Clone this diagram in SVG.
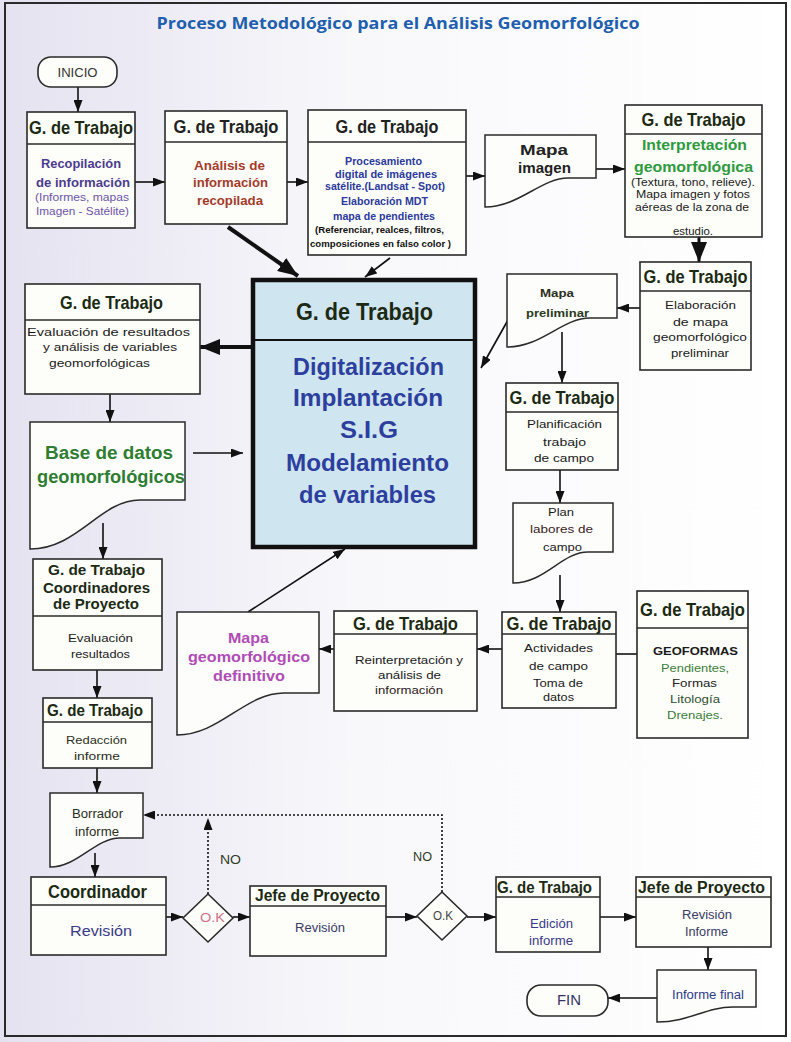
<svg xmlns="http://www.w3.org/2000/svg" width="791" height="1042" viewBox="0 0 791 1042" fill="#1a1a1a">
<defs>
<linearGradient id="bg" x1="0" y1="0" x2="1" y2="0">
<stop offset="0" stop-color="#e4e2f0"/>
<stop offset="0.45" stop-color="#f8f8fb"/>
<stop offset="1" stop-color="#ffffff"/>
</linearGradient>
<marker id="ah" markerUnits="userSpaceOnUse" markerWidth="12" markerHeight="9" refX="12" refY="4.5" orient="auto">
<path d="M0,0 L12,4.5 L0,9 z" fill="#111"/>
</marker>
<marker id="big" markerUnits="userSpaceOnUse" markerWidth="20" markerHeight="16" refX="20" refY="8" orient="auto">
<path d="M0,0 L20,8 L0,16 z" fill="#111"/>
</marker>
<style>
.box{fill:#fdfdf9;stroke:#2a2a2a;stroke-width:1.6}
.doc{fill:#fdfdfb;stroke:#2a2a2a;stroke-width:1.5}
.dv{stroke:#2a2a2a;stroke-width:1.4}
.hd{font-family:"Liberation Sans Narrow","Liberation Sans",Arial,sans-serif;font-weight:bold;text-anchor:middle}
.t{font-family:"Liberation Sans",Arial,sans-serif;text-anchor:middle}
.b{font-weight:bold}
.ln{stroke:#111;stroke-width:1.6;fill:none}
.arr{marker-end:url(#ah)}
.thick{stroke-width:4;marker-end:url(#big)}
.dot{stroke-dasharray:2 2;stroke-width:1.6}
</style>
</defs>
<rect x="0" y="0" width="791" height="1042" fill="url(#bg)"/>
<rect x="5" y="3" width="781" height="1033" fill="none" stroke="#2a2a2a" stroke-width="2"/>
<text x="398" y="29" font-family="'Open Sans','Liberation Sans',sans-serif" font-weight="bold" font-size="16" fill="#1f5fae" text-anchor="middle" textLength="483" lengthAdjust="spacingAndGlyphs">Proceso Metodológico para el Análisis Geomorfológico</text>

<g id="connectors">
<line class="ln arr" x1="78" y1="87" x2="78" y2="112"/>
<line class="ln arr" x1="135" y1="182" x2="165" y2="182"/>
<line class="ln arr" x1="287" y1="182" x2="308" y2="182"/>
<line class="ln arr" x1="466" y1="176" x2="485" y2="176"/>
<line class="ln arr" x1="596" y1="169" x2="625" y2="169"/>
<line class="ln" style="stroke-width:3;marker-end:url(#big)" x1="699" y1="237" x2="699" y2="262"/>
<line class="ln arr" x1="640" y1="308" x2="617" y2="308"/>
<line class="ln arr" x1="508" y1="320" x2="481" y2="368"/>
<line class="ln arr" x1="562" y1="332" x2="562" y2="383"/>
<line class="ln arr" x1="560" y1="470" x2="560" y2="503"/>
<line class="ln arr" x1="560" y1="575" x2="560" y2="612"/>
<line class="ln" x1="616" y1="654" x2="637" y2="654"/>
<line class="ln arr" x1="502" y1="649" x2="477" y2="649"/>
<line class="ln arr" x1="334" y1="649" x2="319" y2="649"/>
<line class="ln arr" x1="248" y1="612" x2="345" y2="549"/>
<line class="ln thick" x1="228" y1="227" x2="298" y2="276"/>
<line class="ln arr" x1="390" y1="258" x2="365" y2="277"/>
<line class="ln thick" x1="253" y1="347" x2="200" y2="347"/>
<line class="ln arr" x1="110" y1="394" x2="110" y2="422"/>
<line class="ln arr" x1="193" y1="453" x2="243" y2="453"/>
<line class="ln arr" x1="103" y1="523" x2="103" y2="559"/>
<line class="ln arr" x1="97" y1="670" x2="97" y2="698"/>
<line class="ln arr" x1="97" y1="768" x2="97" y2="793"/>
<line class="ln arr" x1="95" y1="853" x2="95" y2="877"/>
<line class="ln arr" x1="166" y1="917" x2="183" y2="917"/>
<line class="ln arr" x1="233" y1="917" x2="250" y2="917"/>
<line class="ln dot arr" x1="208" y1="894" x2="208" y2="818"/>
<path class="ln dot arr" d="M442,892 V815 H143"/>
<line class="ln arr" x1="386" y1="917" x2="417" y2="917"/>
<line class="ln arr" x1="467" y1="917" x2="496" y2="917"/>
<line class="ln arr" x1="600" y1="917" x2="636" y2="917"/>
<line class="ln arr" x1="708" y1="947" x2="708" y2="970"/>
<line class="ln arr" x1="657" y1="998" x2="608" y2="998"/>
<text class="t" x="230.5" y="864" font-size="12" fill="#2e3a1e" textLength="21" lengthAdjust="spacingAndGlyphs">NO</text>
<text class="t" x="422.5" y="861" font-size="12" fill="#2e3a1e" textLength="19" lengthAdjust="spacingAndGlyphs">NO</text>
</g>

<g id="inicio">
<rect x="38" y="57" width="79" height="30" rx="13" class="box"/>
<text class="t" x="77.5" y="76.5" font-size="12" fill="#333" textLength="40" lengthAdjust="spacingAndGlyphs">INICIO</text>
</g>

<g id="recopilacion">
<rect x="27" y="112" width="108" height="116" class="box"/>
<line class="dv" x1="27" y1="144" x2="135" y2="144"/>
<text class="hd" x="81" y="134" font-size="19" fill="#1c2a14" textLength="104" lengthAdjust="spacingAndGlyphs">G. de Trabajo</text>
<text class="t b" x="81" y="167.5" font-size="13" fill="#4b3b8f" textLength="80" lengthAdjust="spacingAndGlyphs">Recopilación</text>
<text class="t b" x="83" y="186.5" font-size="13" fill="#4b3b8f" textLength="94" lengthAdjust="spacingAndGlyphs">de información</text>
<text class="t" x="82" y="201" font-size="11.5" fill="#6d55a8" textLength="94" lengthAdjust="spacingAndGlyphs">(Informes, mapas</text>
<text class="t" x="82.5" y="215" font-size="11.5" fill="#6d55a8" textLength="93" lengthAdjust="spacingAndGlyphs">Imagen - Satélite)</text>
</g>

<g id="analisis">
<rect x="165" y="111" width="122" height="113" class="box"/>
<line class="dv" x1="165" y1="142" x2="287" y2="142"/>
<text class="hd" x="226" y="133" font-size="19" fill="#222" textLength="105" lengthAdjust="spacingAndGlyphs">G. de Trabajo</text>
<text class="t b" x="229.5" y="169.5" font-size="13" fill="#a33a2a" textLength="71" lengthAdjust="spacingAndGlyphs">Análisis de</text>
<text class="t b" x="230.5" y="186.5" font-size="13" fill="#a33a2a" textLength="75" lengthAdjust="spacingAndGlyphs">información</text>
<text class="t b" x="230" y="204.5" font-size="13" fill="#a33a2a" textLength="66" lengthAdjust="spacingAndGlyphs">recopilada</text>
</g>

<g id="procesamiento">
<rect x="308" y="110" width="158" height="145" class="box"/>
<line class="dv" x1="308" y1="142" x2="466" y2="142"/>
<text class="hd" x="387" y="133" font-size="19" fill="#222" textLength="103" lengthAdjust="spacingAndGlyphs">G. de Trabajo</text>
<text class="t b" x="383.5" y="164.7" font-size="10.5" fill="#2b3a9c" textLength="77" lengthAdjust="spacingAndGlyphs">Procesamiento</text>
<text class="t b" x="386" y="177.7" font-size="10.5" fill="#2b3a9c" textLength="102" lengthAdjust="spacingAndGlyphs">digital de imágenes</text>
<text class="t b" x="385" y="189.7" font-size="10.5" fill="#2b3a9c" textLength="120" lengthAdjust="spacingAndGlyphs">satélite.(Landsat - Spot)</text>
<text class="t b" x="384.5" y="204.7" font-size="11" fill="#2b3a9c" textLength="87" lengthAdjust="spacingAndGlyphs">Elaboración MDT</text>
<text class="t b" x="384" y="219.7" font-size="11" fill="#2b3a9c" textLength="102" lengthAdjust="spacingAndGlyphs">mapa de pendientes</text>
<text class="t b" x="379.5" y="233" font-size="8.5" fill="#111" textLength="129" lengthAdjust="spacingAndGlyphs">(Referenciar, realces, filtros,</text>
<text class="t b" x="380.5" y="247" font-size="8.5" fill="#111" textLength="141" lengthAdjust="spacingAndGlyphs">composiciones en falso color )</text>
</g>

<g id="mapa-imagen">
<path class="doc" d="M485,135 H596 V178 L568,178 C541,178 519,207 485,207 Z"/>
<text class="t b" x="544" y="155" font-size="14" fill="#222" textLength="48" lengthAdjust="spacingAndGlyphs">Mapa</text>
<text class="t b" x="544.5" y="173" font-size="14" fill="#222" textLength="53" lengthAdjust="spacingAndGlyphs">imagen</text>
</g>

<g id="interpretacion">
<rect x="625" y="105" width="137" height="132" class="box"/>
<line class="dv" x1="625" y1="134" x2="762" y2="134"/>
<text class="hd" x="693.5" y="126" font-size="19" fill="#1c2a14" textLength="104" lengthAdjust="spacingAndGlyphs">G. de Trabajo</text>
<text class="t b" x="694.5" y="150" font-size="15" fill="#2e9a40" textLength="105" lengthAdjust="spacingAndGlyphs">Interpretación</text>
<text class="t b" x="693.5" y="172" font-size="15" fill="#2e9a40" textLength="119" lengthAdjust="spacingAndGlyphs">geomorfológica</text>
<text class="t" x="693" y="186" font-size="11" fill="#1a1a1a" textLength="124" lengthAdjust="spacingAndGlyphs">(Textura, tono, relieve).</text>
<text class="t" x="693" y="198" font-size="11" fill="#1a1a1a" textLength="114" lengthAdjust="spacingAndGlyphs">Mapa imagen y fotos</text>
<text class="t" x="692" y="211" font-size="11" fill="#1a1a1a" textLength="114" lengthAdjust="spacingAndGlyphs">aéreas de la zona de</text>
<text class="t" x="693" y="235" font-size="11" fill="#1a1a1a" textLength="40" lengthAdjust="spacingAndGlyphs">estudio.</text>
</g>

<g id="elaboracion">
<rect x="640" y="262" width="111" height="108" class="box"/>
<line class="dv" x1="640" y1="291" x2="751" y2="291"/>
<text class="hd" x="695.5" y="282.5" font-size="19" fill="#1c2a14" textLength="104" lengthAdjust="spacingAndGlyphs">G. de Trabajo</text>
<text class="t" x="700.5" y="309" font-size="11.5" fill="#1a1a1a" textLength="71" lengthAdjust="spacingAndGlyphs">Elaboración</text>
<text class="t" x="700.5" y="326" font-size="11.5" fill="#1a1a1a" textLength="55" lengthAdjust="spacingAndGlyphs">de mapa</text>
<text class="t" x="700" y="341" font-size="11.5" fill="#1a1a1a" textLength="94" lengthAdjust="spacingAndGlyphs">geomorfológico</text>
<text class="t" x="700" y="357" font-size="11.5" fill="#1a1a1a" textLength="58" lengthAdjust="spacingAndGlyphs">preliminar</text>
</g>

<g id="mapa-preliminar">
<path class="doc" d="M507,274 H617 V318 L590,318 C562,318 542,347 507,347 Z"/>
<text class="t b" x="557" y="297" font-size="11.5" fill="#2a2f20" textLength="34" lengthAdjust="spacingAndGlyphs">Mapa</text>
<text class="t b" x="557.5" y="317" font-size="11.5" fill="#2a3a1c" textLength="63" lengthAdjust="spacingAndGlyphs">preliminar</text>
</g>

<g id="planificacion">
<rect x="506" y="383" width="112" height="87" class="box"/>
<line class="dv" x1="506" y1="412" x2="618" y2="412"/>
<text class="hd" x="562" y="403.5" font-size="19" fill="#1c2a14" textLength="105" lengthAdjust="spacingAndGlyphs">G. de Trabajo</text>
<text class="t" x="564.5" y="428" font-size="11.5" fill="#1a1a1a" textLength="75" lengthAdjust="spacingAndGlyphs">Planificación</text>
<text class="t" x="564.5" y="446" font-size="11.5" fill="#1a1a1a" textLength="43" lengthAdjust="spacingAndGlyphs">trabajo</text>
<text class="t" x="564" y="462" font-size="11.5" fill="#1a1a1a" textLength="60" lengthAdjust="spacingAndGlyphs">de campo</text>
</g>

<g id="plan-labores">
<path class="doc" d="M513,503 H613 V552 L588,552 C562,552 545,583 513,583 Z"/>
<text class="t" x="561" y="516" font-size="11.5" fill="#1a1a1a" textLength="26" lengthAdjust="spacingAndGlyphs">Plan</text>
<text class="t" x="561.5" y="533" font-size="11.5" fill="#3a2222" textLength="63" lengthAdjust="spacingAndGlyphs">labores de</text>
<text class="t" x="562.5" y="551" font-size="11.5" fill="#1a1a1a" textLength="39" lengthAdjust="spacingAndGlyphs">campo</text>
</g>

<g id="actividades">
<rect x="502" y="612" width="114" height="96" class="box"/>
<line class="dv" x1="502" y1="634" x2="616" y2="634"/>
<text class="hd" x="559" y="629.5" font-size="19" fill="#1c2a14" textLength="105" lengthAdjust="spacingAndGlyphs">G. de Trabajo</text>
<text class="t" x="558.5" y="652" font-size="11.5" fill="#1a1a1a" textLength="69" lengthAdjust="spacingAndGlyphs">Actividades</text>
<text class="t" x="558.5" y="670" font-size="11.5" fill="#1a1a1a" textLength="59" lengthAdjust="spacingAndGlyphs">de campo</text>
<text class="t" x="558" y="687" font-size="11.5" fill="#1a1a1a" textLength="50" lengthAdjust="spacingAndGlyphs">Toma de</text>
<text class="t" x="558.5" y="701" font-size="11.5" fill="#1a1a1a" textLength="31" lengthAdjust="spacingAndGlyphs">datos</text>
</g>

<g id="geoformas">
<rect x="637" y="591" width="111" height="147" class="box"/>
<line class="dv" x1="637" y1="628" x2="748" y2="628"/>
<text class="hd" x="692.5" y="615.5" font-size="19" fill="#1c2a14" textLength="105" lengthAdjust="spacingAndGlyphs">G. de Trabajo</text>
<text class="t b" x="695.5" y="655" font-size="11.5" fill="#1a1a1a" textLength="85" lengthAdjust="spacingAndGlyphs">GEOFORMAS</text>
<text class="t" x="695" y="672" font-size="11.5" fill="#3b7d3b" textLength="68" lengthAdjust="spacingAndGlyphs">Pendientes,</text>
<text class="t" x="694.5" y="687" font-size="11.5" fill="#222" textLength="45" lengthAdjust="spacingAndGlyphs">Formas</text>
<text class="t" x="695" y="703" font-size="11.5" fill="#2f4f2f" textLength="50" lengthAdjust="spacingAndGlyphs">Litología</text>
<text class="t" x="695" y="719" font-size="11.5" fill="#3b7d3b" textLength="56" lengthAdjust="spacingAndGlyphs">Drenajes.</text>
</g>

<g id="reinterpretacion">
<rect x="334" y="611" width="143" height="100" class="box"/>
<line class="dv" x1="334" y1="634" x2="477" y2="634"/>
<text class="hd" x="405.5" y="629.5" font-size="19" fill="#1c2a14" textLength="105" lengthAdjust="spacingAndGlyphs">G. de Trabajo</text>
<text class="t" x="409" y="664" font-size="11.5" fill="#1a1a1a" textLength="108" lengthAdjust="spacingAndGlyphs">Reinterpretación y</text>
<text class="t" x="409.5" y="679" font-size="11.5" fill="#1a1a1a" textLength="63" lengthAdjust="spacingAndGlyphs">análisis de</text>
<text class="t" x="409" y="694" font-size="11.5" fill="#2a1a1a" textLength="68" lengthAdjust="spacingAndGlyphs">información</text>
</g>

<g id="mapa-definitivo">
<path class="doc" d="M177,612 H319 V693 L284,693 C245,693 220,735 177,735 Z"/>
<text class="t b" x="248.5" y="643" font-size="15" fill="#b04cb5" textLength="41" lengthAdjust="spacingAndGlyphs">Mapa</text>
<text class="t b" x="249" y="662" font-size="15" fill="#b04cb5" textLength="122" lengthAdjust="spacingAndGlyphs">geomorfológico</text>
<text class="t b" x="249" y="681" font-size="15" fill="#b04cb5" textLength="72" lengthAdjust="spacingAndGlyphs">definitivo</text>
</g>

<g id="digitalizacion">
<rect x="253" y="280" width="222" height="267" fill="#cfe5ef" stroke="#111" stroke-width="4.5"/>
<line x1="253" y1="340" x2="475" y2="340" stroke="#111" stroke-width="2"/>
<text class="hd" x="364.5" y="320" font-size="24" fill="#1c2a14" textLength="137" lengthAdjust="spacingAndGlyphs">G. de Trabajo</text>
<text class="t b" x="368.5" y="375" font-size="23" fill="#2d3f9e" textLength="151" lengthAdjust="spacingAndGlyphs">Digitalización</text>
<text class="t b" x="368" y="406" font-size="23" fill="#2d3f9e" textLength="150" lengthAdjust="spacingAndGlyphs">Implantación</text>
<text class="t b" x="369" y="438" font-size="23" fill="#2d3f9e" textLength="58" lengthAdjust="spacingAndGlyphs">S.I.G</text>
<text class="t b" x="367.5" y="471" font-size="23" fill="#2d3f9e" textLength="163" lengthAdjust="spacingAndGlyphs">Modelamiento</text>
<text class="t b" x="367.5" y="503" font-size="23" fill="#2d3f9e" textLength="137" lengthAdjust="spacingAndGlyphs">de variables</text>
</g>

<g id="evaluacion">
<rect x="25" y="284" width="175" height="110" class="box"/>
<line class="dv" x1="25" y1="320" x2="200" y2="320"/>
<text class="hd" x="111.5" y="308.5" font-size="19" fill="#1c2a14" textLength="103" lengthAdjust="spacingAndGlyphs">G. de Trabajo</text>
<text class="t" x="108.5" y="336" font-size="11.5" fill="#1a1a1a" textLength="163" lengthAdjust="spacingAndGlyphs">Evaluación de resultados</text>
<text class="t" x="110" y="351" font-size="11.5" fill="#1a1a1a" textLength="134" lengthAdjust="spacingAndGlyphs">y análisis de variables</text>
<text class="t" x="99.5" y="367" font-size="11.5" fill="#1a1a1a" textLength="101" lengthAdjust="spacingAndGlyphs">geomorfológicas</text>
</g>

<g id="base-datos">
<path class="doc" d="M30,422 H185 V500 L140,500 C100,500 78,549 30,549 Z"/>
<text class="t b" x="109" y="459" font-size="18" fill="#2e7d32" textLength="128" lengthAdjust="spacingAndGlyphs">Base de datos</text>
<text class="t b" x="111" y="483" font-size="18" fill="#2e7d32" textLength="148" lengthAdjust="spacingAndGlyphs">geomorfológicos</text>
</g>

<g id="coordinadores">
<rect x="33" y="559" width="129" height="111" class="box"/>
<line class="dv" x1="33" y1="616" x2="162" y2="616"/>
<text class="hd" x="96.5" y="575" font-size="15.5" fill="#1c2a14" textLength="97" lengthAdjust="spacingAndGlyphs">G. de Trabajo</text>
<text class="hd" x="96.5" y="593" font-size="15.5" fill="#1c2a14" textLength="107" lengthAdjust="spacingAndGlyphs">Coordinadores</text>
<text class="hd" x="96" y="609" font-size="15.5" fill="#1c2a14" textLength="86" lengthAdjust="spacingAndGlyphs">de Proyecto</text>
<text class="t" x="100.5" y="642" font-size="11.5" fill="#1a1a1a" textLength="65" lengthAdjust="spacingAndGlyphs">Evaluación</text>
<text class="t" x="100.5" y="658" font-size="11.5" fill="#1a1a1a" textLength="59" lengthAdjust="spacingAndGlyphs">resultados</text>
</g>

<g id="redaccion">
<rect x="43" y="698" width="109" height="70" class="box"/>
<line class="dv" x1="43" y1="722" x2="152" y2="722"/>
<text class="hd" x="95" y="716" font-size="17" fill="#1c2a14" textLength="96" lengthAdjust="spacingAndGlyphs">G. de Trabajo</text>
<text class="t" x="96.5" y="744" font-size="11.5" fill="#2a2f20" textLength="61" lengthAdjust="spacingAndGlyphs">Redacción</text>
<text class="t" x="97" y="760" font-size="11.5" fill="#2a2f20" textLength="46" lengthAdjust="spacingAndGlyphs">informe</text>
</g>

<g id="borrador">
<path class="doc" d="M50,793 H143 V838 L120,838 C95,838 78,867 50,867 Z"/>
<text class="t" x="97.5" y="818" font-size="12" fill="#2a2f20" textLength="51" lengthAdjust="spacingAndGlyphs">Borrador</text>
<text class="t" x="97" y="836" font-size="12" fill="#2a2f20" textLength="44" lengthAdjust="spacingAndGlyphs">informe</text>
</g>

<g id="coordinador">
<rect x="31" y="877" width="135" height="78" class="box"/>
<line class="dv" x1="31" y1="905" x2="166" y2="905"/>
<text class="hd" x="97.5" y="898" font-size="19" fill="#1c2a14" textLength="99" lengthAdjust="spacingAndGlyphs">Coordinador</text>
<text class="t" x="101" y="936" font-size="15" fill="#3a3a8a" textLength="62" lengthAdjust="spacingAndGlyphs">Revisión</text>
</g>

<g id="ok1">
<polygon points="208,894 233,918 208,942 183,918" class="box"/>
<text class="t" x="212.5" y="922" font-size="12" fill="#d0708a" textLength="25" lengthAdjust="spacingAndGlyphs">O.K</text>
</g>

<g id="jefe1">
<rect x="250" y="886" width="136" height="70" class="box"/>
<line class="dv" x1="250" y1="906" x2="386" y2="906"/>
<text class="hd" x="317.5" y="901" font-size="16" fill="#1c2a14" textLength="125" lengthAdjust="spacingAndGlyphs">Jefe de Proyecto</text>
<text class="t" x="320" y="932" font-size="12" fill="#3a3a66" textLength="50" lengthAdjust="spacingAndGlyphs">Revisión</text>
</g>

<g id="ok2">
<polygon points="442,892 467,916 442,940 417,916" class="box"/>
<text class="t" x="443" y="920" font-size="12" fill="#444" textLength="20" lengthAdjust="spacingAndGlyphs">O.K</text>
</g>

<g id="edicion">
<rect x="496" y="877" width="104" height="75" class="box"/>
<line class="dv" x1="496" y1="897" x2="600" y2="897"/>
<text class="hd" x="544.5" y="892.5" font-size="16" fill="#1c2a14" textLength="95" lengthAdjust="spacingAndGlyphs">G. de Trabajo</text>
<text class="t" x="551.5" y="928" font-size="12" fill="#3a3a8a" textLength="43" lengthAdjust="spacingAndGlyphs">Edición</text>
<text class="t" x="551" y="945" font-size="12" fill="#3a3a8a" textLength="44" lengthAdjust="spacingAndGlyphs">informe</text>
</g>

<g id="jefe2">
<rect x="636" y="877" width="135" height="70" class="box"/>
<line class="dv" x1="636" y1="897" x2="771" y2="897"/>
<text class="hd" x="701.5" y="892.5" font-size="16" fill="#1c2a14" textLength="127" lengthAdjust="spacingAndGlyphs">Jefe de Proyecto</text>
<text class="t" x="707" y="919" font-size="12" fill="#3a3a66" textLength="50" lengthAdjust="spacingAndGlyphs">Revisión</text>
<text class="t" x="706.5" y="936" font-size="12" fill="#3a3a66" textLength="43" lengthAdjust="spacingAndGlyphs">Informe</text>
</g>

<g id="informe-final">
<path class="doc" d="M657,970 H756 V1007 L733,1007 C705,1007 690,1022 657,1022 Z"/>
<text class="t" x="708" y="999" font-size="12" fill="#2d3a8a" textLength="72" lengthAdjust="spacingAndGlyphs">Informe final</text>
</g>

<g id="fin">
<rect x="527" y="985" width="81" height="31" rx="14" class="box"/>
<text class="t" x="569" y="1005" font-size="14" fill="#333366" textLength="24" lengthAdjust="spacingAndGlyphs">FIN</text>
</g>
</svg>
